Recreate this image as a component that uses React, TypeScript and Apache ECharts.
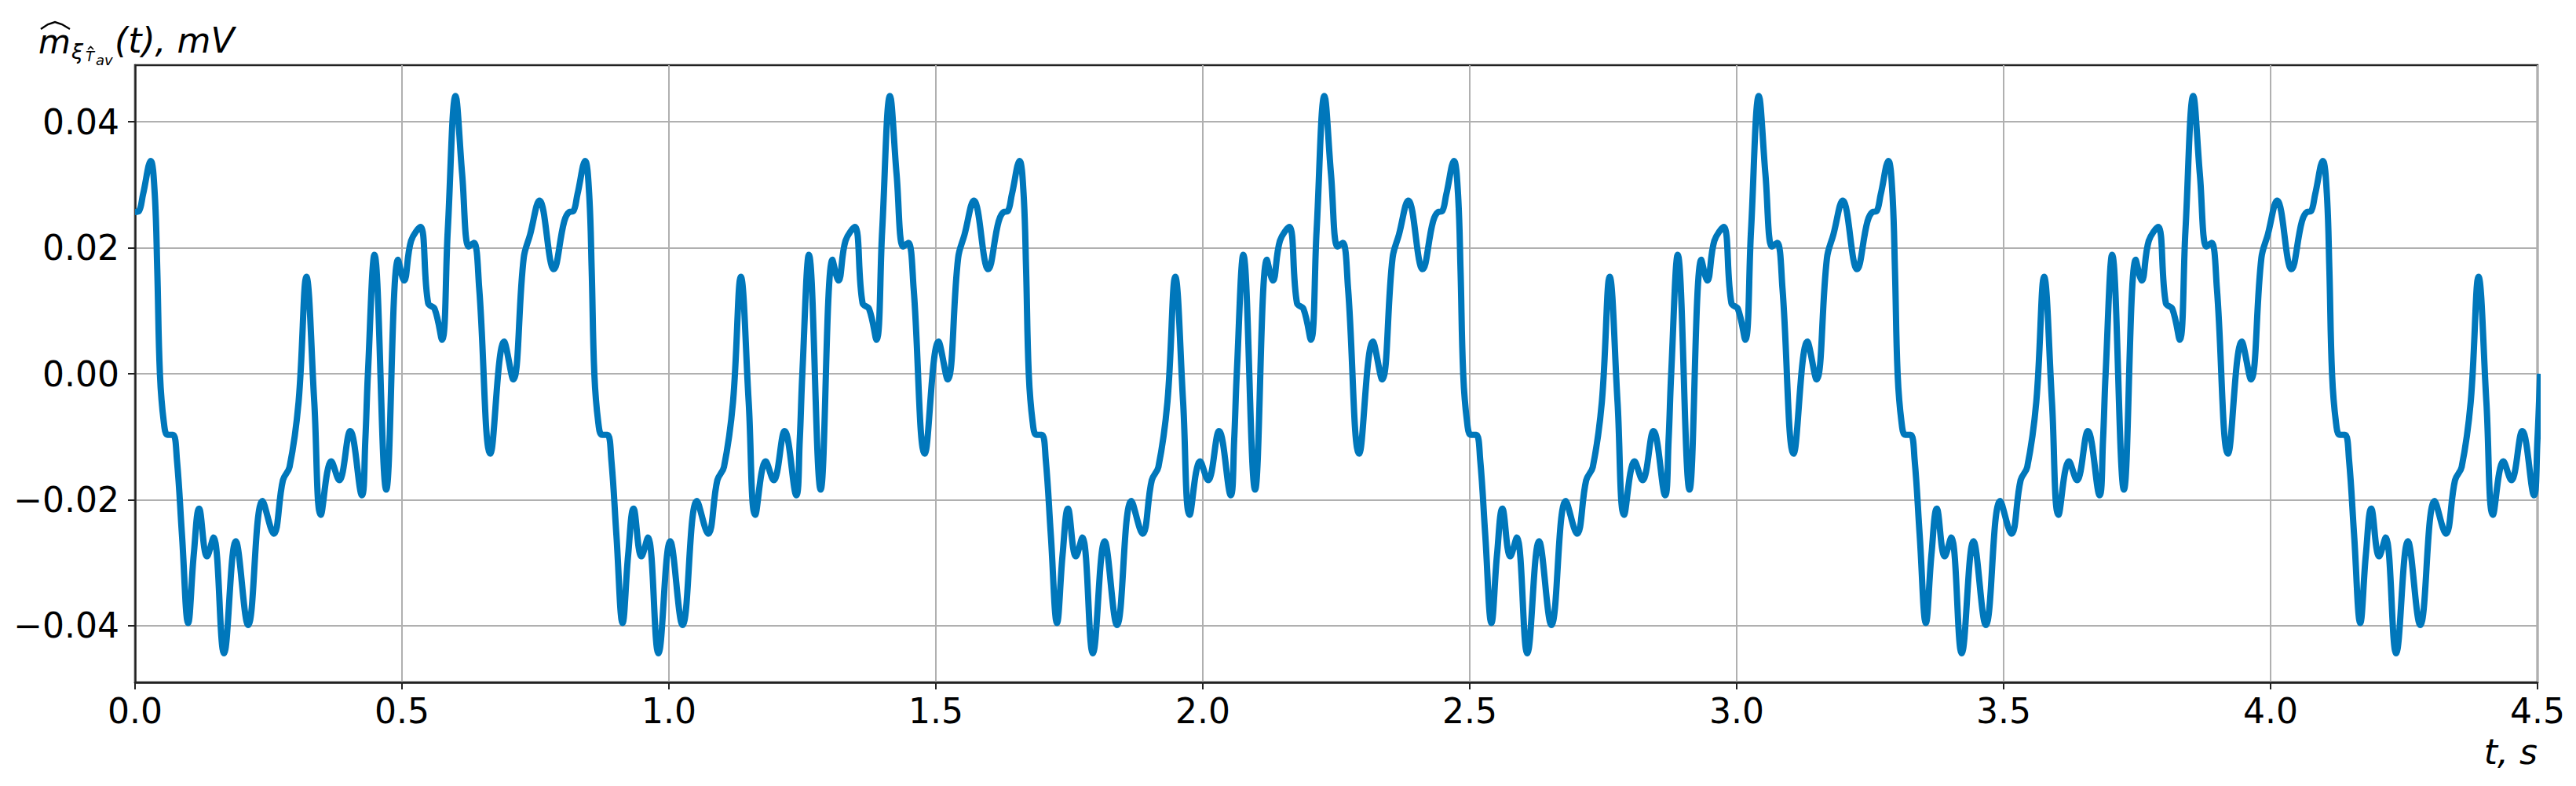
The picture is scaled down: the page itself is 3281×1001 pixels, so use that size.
import React, { useEffect, useRef } from "react";
import * as echarts from "echarts";

// One period of the signal (seconds, mV)
const PERIOD = 0.8137;
const periodTimes = [
  0.0, 0.007, 0.015, 0.0294, 0.0368, 0.0416, 0.0466, 0.0538, 0.061, 0.0711,
  0.0784, 0.088, 0.0995, 0.11, 0.12, 0.1348, 0.147, 0.1666, 0.1887, 0.2118,
  0.2387, 0.2598, 0.277, 0.2894, 0.3063, 0.321, 0.3357, 0.348, 0.3676, 0.3824,
  0.403, 0.425, 0.4313, 0.4362, 0.4485, 0.4705, 0.4926, 0.5038, 0.517, 0.5343,
  0.549, 0.5612, 0.575, 0.5857, 0.6004, 0.6127, 0.625, 0.6347, 0.6446, 0.6656,
  0.6912, 0.7083, 0.728, 0.74, 0.7574, 0.7843, 0.8039,
];
const periodValues = [
  0.0257, 0.0258, 0.0285, 0.0338, 0.0287, 0.0166, 0.0, -0.0076, -0.0097, -0.0097,
  -0.0136, -0.0257, -0.0396, -0.0287, -0.0214, -0.029, -0.026, -0.0444, -0.0266, -0.0399,
  -0.0202, -0.0254, -0.0169, -0.0148, -0.0045, 0.0154, -0.0045, -0.0224, -0.0139, -0.0169,
  -0.0091, -0.0193, -0.0106, 0.0, 0.0189, -0.0184, 0.0181, 0.0148, 0.0211, 0.0233,
  0.0112, 0.0103, 0.0054, 0.0227, 0.0441, 0.0317, 0.0202, 0.0208, 0.0136, -0.0127,
  0.0051, -0.0009, 0.0184, 0.0221, 0.0275, 0.0166, 0.0242,
];
const T_MAX = 4.5;
const yTickValues = [-0.04, -0.02, 0, 0.02, 0.04];
const xTickInterval = 0.5;

const FONT = "DejaVu Sans";

export default function App() {
  const ref = useRef<HTMLDivElement>(null);
  useEffect(() => {
    document.body.style.margin = "0";
    const chart = echarts.init(ref.current!, null, { renderer: "svg" });

    const data: number[][] = [];
    outer: for (let k = 0; k < 20; k++) {
      for (let i = 0; i < periodTimes.length; i++) {
        const t = periodTimes[i] + k * PERIOD;
        data.push([t, periodValues[i]]);
        if (t > T_MAX) break outer;
      }
    }

    const fmtY = (v: number) =>
      (v < -1e-9 ? "\u2212" : "") + Math.abs(v).toFixed(2);

    chart.setOption({
      animation: false,
      backgroundColor: "#ffffff",
      grid: {
        left: 172,
        right: 49,
        top: 83,
        bottom: 132,
        show: true,
        borderColor: "#222222",
        borderWidth: 2.5,
        backgroundColor: "transparent",
      },
      xAxis: {
        type: "value",
        min: 0,
        max: T_MAX,
        interval: xTickInterval,
        axisLine: { show: true, onZero: false, lineStyle: { color: "#222222", width: 2.5 } },
        axisTick: { show: true, length: 9, lineStyle: { color: "#222222", width: 2 } },
        axisLabel: {
          show: true,
          margin: 14,
          color: "#000000",
          fontFamily: FONT,
          fontSize: 44,
          showMinLabel: true,
          showMaxLabel: true,
          formatter: (v: number) => v.toFixed(1),
        },
        splitLine: { show: true, lineStyle: { color: "#b0b0b0", width: 2 } },
      },
      yAxis: {
        type: "value",
        min: -0.049,
        max: 0.049,
        axisLine: { show: true, onZero: false, lineStyle: { color: "#222222", width: 2.5 } },
        axisTick: {
          show: true,
          length: 9,
          customValues: yTickValues,
          lineStyle: { color: "#222222", width: 2 },
        },
        axisLabel: {
          show: true,
          margin: 20,
          color: "#000000",
          fontFamily: FONT,
          fontSize: 44,
          customValues: yTickValues,
          formatter: fmtY,
        },
        splitLine: { show: true, lineStyle: { color: "#b0b0b0", width: 2 } },
      },
      series: [
        {
          type: "line",
          data,
          showSymbol: false,
          smooth: 0.4,
          clip: true,
          lineStyle: { color: "#0077bb", width: 8 },
        },
      ],
      graphic: [
        { type: "text", x: 49, y: 53, style: { text: "m", font: `italic 42px '${FONT}'`, fill: "#000", align: "left", verticalAlign: "middle" } },
        { type: "polyline", shape: { points: [[52, 37], [61, 31], [70, 28], [79, 31], [89, 37]] }, style: { stroke: "#000", lineWidth: 2.4, fill: "none" } },
        { type: "text", x: 91, y: 65, style: { text: "ξ", font: `italic 27px '${FONT}'`, fill: "#000", align: "left", verticalAlign: "middle" } },
        { type: "text", x: 109, y: 71, style: { text: "T", font: `italic 18px '${FONT}'`, fill: "#000", align: "left", verticalAlign: "middle" } },
        { type: "polyline", shape: { points: [[112, 63], [115.5, 59.5], [119, 63]] }, style: { stroke: "#000", lineWidth: 1.6, fill: "none" } },
        { type: "text", x: 122, y: 76, style: { text: "av", font: `italic 18px '${FONT}'`, fill: "#000", align: "left", verticalAlign: "middle" } },
        { type: "text", x: 146, y: 51, style: { text: "(t), mV", font: `italic 44px '${FONT}'`, fill: "#000", align: "left", verticalAlign: "middle" } },
        { type: "text", x: 3232, y: 957, style: { text: "t, s", font: `italic 44px '${FONT}'`, fill: "#000", align: "right", verticalAlign: "middle" } },
      ],
    });
    return () => chart.dispose();
  }, []);
  return <div ref={ref} style={{ width: 3281, height: 1001 }} />;
}
